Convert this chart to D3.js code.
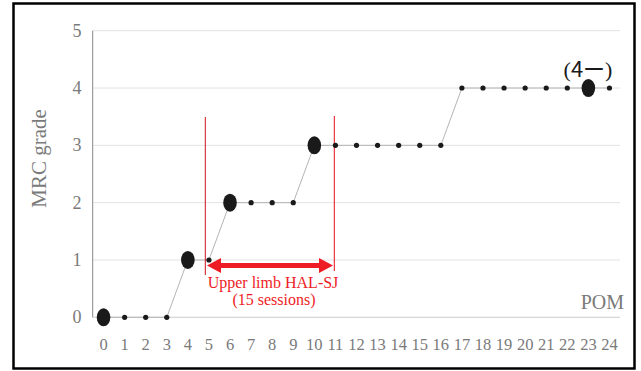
<!DOCTYPE html>
<html><head><meta charset="utf-8">
<script src="https://cdn.jsdelivr.net/npm/d3@7"></script>
<style>body{margin:0;background:#fff}svg{display:block}</style>
</head><body>
<script>
const months = d3.range(0, 25);
const mrc = [0,0,0,0,1,1,2,2,2,2,3,3,3,3,3,3,3,4,4,4,4,4,4,4,4];
const bigPoints = [0,4,6,10,23];
const yTicks = [0,1,2,3,4,5];

const W = 641, H = 371;
const svg = d3.select("body").append("svg").attr("width", W).attr("height", H);
const serif = "'Liberation Serif','DejaVu Serif',serif";

svg.append("rect").attr("x", 13.5).attr("y", 3.5).attr("width", 621).attr("height", 365)
  .attr("fill", "#fff").attr("stroke", "#000").attr("stroke-width", 2.5);

const x = d3.scaleBand().domain(months).range([93, 620]);
const xc = d => x(d) + x.bandwidth()/2;
const y = d3.scaleLinear().domain([0,5]).range([317.3, 30.7]);

// gridlines
svg.append("g").selectAll("line").data(yTicks).join("line")
  .attr("x1", 93).attr("x2", 620).attr("y1", d=>y(d)).attr("y2", d=>y(d))
  .attr("stroke", "#e3e3e3").attr("stroke-width", 1);
svg.append("line").attr("x1", 93).attr("x2", 620).attr("y1", y(0)).attr("y2", y(0))
  .attr("stroke", "#d4d4d4").attr("stroke-width", 1);
svg.append("line").attr("x1", 92.7).attr("x2", 92.7).attr("y1", y(5)).attr("y2", y(0))
  .attr("stroke", "#888").attr("stroke-width", 1);

svg.append("g").selectAll("text").data(yTicks).join("text")
  .attr("x", 77).attr("y", d=>y(d)+6).attr("text-anchor","middle")
  .attr("font-family", serif).attr("font-size", 18).attr("fill", "#7a7a7a").text(d=>d);
svg.append("g").selectAll("text").data(months).join("text")
  .attr("x", d=>xc(d)).attr("y", 350).attr("text-anchor","middle")
  .attr("font-family", serif).attr("font-size", 16.5).attr("fill", "#7a7a7a").text(d=>d);

svg.append("text").attr("transform", "translate(46,158.5) rotate(-90)")
  .attr("text-anchor","middle").attr("font-family", serif).attr("font-size", 21)
  .attr("fill", "#7a7a7a").text("MRC grade");
svg.append("text").attr("x", 624).attr("y", 309).attr("text-anchor","end")
  .attr("font-family", serif).attr("font-size", 20).attr("fill", "#7a7a7a").text("POM");

svg.append("path").datum(months)
  .attr("d", d3.line().x(d=>xc(d)).y(d=>y(mrc[d])))
  .attr("fill","none").attr("stroke","#b5b5b5").attr("stroke-width",1);

const redX1 = 205.3, redX2 = 334.3;
svg.append("line").attr("x1", redX1).attr("x2", redX1).attr("y1", 117).attr("y2", 275)
  .attr("stroke", "#d0101a").attr("stroke-width", 1);
svg.append("line").attr("x1", redX2).attr("x2", redX2).attr("y1", 116).attr("y2", 271)
  .attr("stroke", "#e8101a").attr("stroke-width", 1);

svg.append("g").selectAll("circle").data(months.filter(d=>!bigPoints.includes(d))).join("circle")
  .attr("cx", d=>xc(d)).attr("cy", d=>y(mrc[d])).attr("r", 2.6).attr("fill", "#1a1a1a");
svg.append("g").selectAll("ellipse").data(bigPoints).join("ellipse")
  .attr("cx", d=>xc(d)).attr("cy", d=>y(mrc[d])).attr("rx", 6.8).attr("ry", 9)
  .attr("fill", "#1a1a1a");

const ay = 265.5, ax1 = 207, ax2 = 333;
const red = "#ee1c25";
svg.append("path").attr("d",
  `M${ax1},${ay} L${ax1+14},${ay-7.5} L${ax1+14},${ay-2.6} L${ax2-14},${ay-2.6} L${ax2-14},${ay-7.5} L${ax2},${ay} L${ax2-14},${ay+7.5} L${ax2-14},${ay+2.6} L${ax1+14},${ay+2.6} L${ax1+14},${ay+7.5} Z`)
  .attr("fill", red);

svg.append("text").attr("x", 273).attr("y", 288).attr("text-anchor","middle")
  .attr("font-family", serif).attr("font-size", 16).attr("fill", red).text("Upper limb HAL-SJ");
svg.append("text").attr("x", 274).attr("y", 305).attr("text-anchor","middle")
  .attr("font-family", serif).attr("font-size", 16).attr("fill", red).text("(15 sessions)");

const g4 = svg.append("text").attr("x", 588).attr("y", 77).attr("text-anchor","middle")
  .attr("font-size", 22).attr("fill", "#1a1a1a");
g4.append("tspan").attr("font-family", serif).text("(");
g4.append("tspan").attr("font-family", "'Noto Sans CJK JP','Noto Sans',sans-serif").text("4ー");
g4.append("tspan").attr("font-family", serif).text(")");
</script>
</body></html>
